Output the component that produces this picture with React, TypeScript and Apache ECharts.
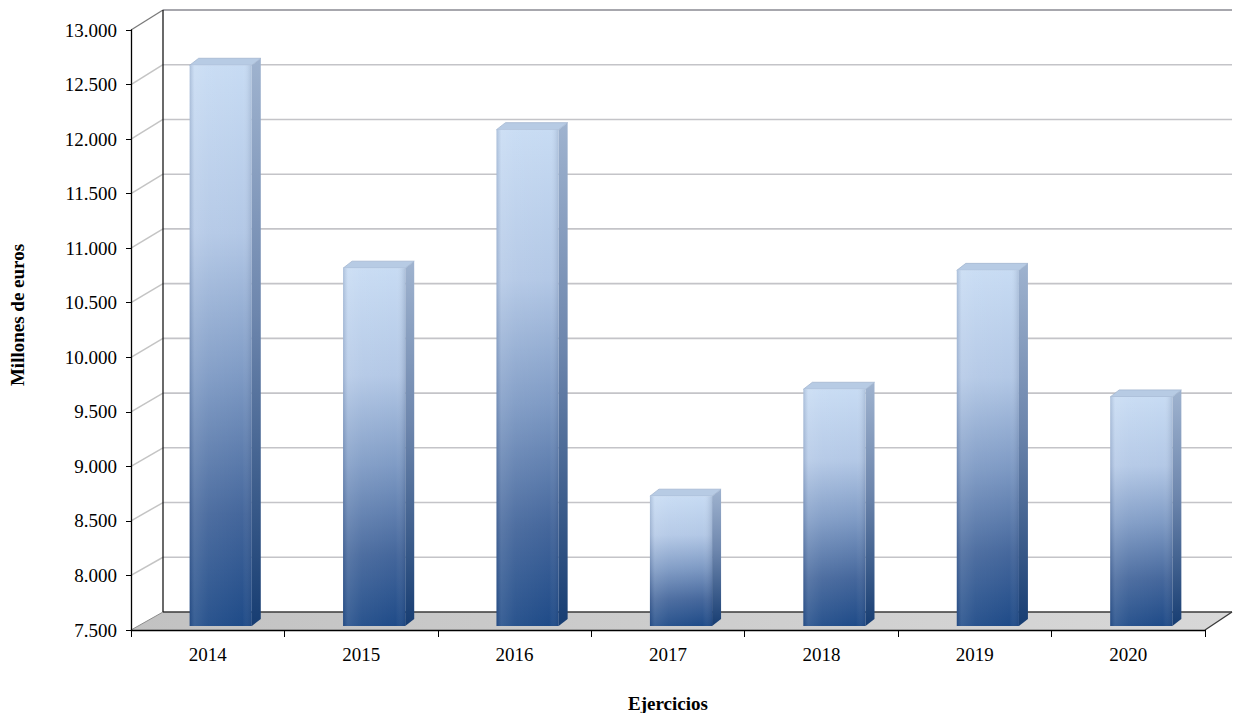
import React, { useEffect, useRef } from "react";
import * as echarts from "echarts";

const years = ["2014", "2015", "2016", "2017", "2018", "2019", "2020"];
const values = [12640, 10780, 12050, 8690, 9670, 10760, 9600];
const yTicks = [7500, 8000, 8500, 9000, 9500, 10000, 10500, 11000, 11500, 12000, 12500, 13000];
const yMin = 7500;
const yMax = 13000;
const yStep = 500;
const yTitle = "Millones de euros";
const xTitle = "Ejercicios";

const FONT = "'Liberation Serif', 'Times New Roman', serif";

function fmt(v: number): string {
  const s = String(Math.round(v));
  return s.replace(/\B(?=(\d{3})+(?!\d))/g, ".");
}

export default function App() {
  const ref = useRef<HTMLDivElement>(null);
  useEffect(() => {
    if (!ref.current) return;
    const chart = echarts.init(ref.current, undefined, { renderer: "svg" });

    const wallItem = (params: any, api: any) => {
      const cs = params.coordSys;
      const v = api.value(1);
      const fy = api.coord([0, v])[1];
      const x0 = cs.x;
      const x1 = cs.x + cs.width;
      const frontBottom = cs.y + cs.height;
      const by = frontBottom - 18 - (frontBottom - fy) * (602 / 600);
      const bxL = x0 + 32;
      const bxR = x1 + 27;
      const children: any[] = [];
      if (params.dataIndex === 0) {
        children.push({
          type: "polygon",
          shape: { points: [[x0, frontBottom], [x1, frontBottom], [bxR, by], [bxL, by]] },
          style: {
            fill: new echarts.graphic.LinearGradient(0, 0, 1, 0, [
              { offset: 0, color: "#c2c2c2" },
              { offset: 1, color: "#d8d8d8" },
            ]),
            stroke: null,
          },
        });
        children.push({ type: "line", shape: { x1: x0, y1: frontBottom, x2: bxL, y2: by }, style: { stroke: "#8c8c8c", lineWidth: 1 } });
        children.push({ type: "line", shape: { x1: bxL, y1: by, x2: bxR, y2: by }, style: { stroke: "#3a3a3a", lineWidth: 1.3 } });
        children.push({ type: "line", shape: { x1: x1, y1: frontBottom, x2: bxR, y2: by }, style: { stroke: "#3a3a3a", lineWidth: 1.3 } });
      } else {
        const top = v >= yMax;
        children.push({ type: "line", shape: { x1: x0, y1: fy, x2: bxL, y2: by }, style: { stroke: top ? "#7a7a7a" : "#c4c4c4", lineWidth: top ? 1.3 : 1.5 } });
        children.push({ type: "line", shape: { x1: bxL, y1: by, x2: bxR, y2: by }, style: { stroke: top ? "#8a8a92" : "#c4c4c8", lineWidth: top ? 1.5 : 1.6 } });
      }
      if (v >= yMax) {
        const byBottom = frontBottom - 18;
        children.push({ type: "line", shape: { x1: bxL, y1: by, x2: bxL, y2: byBottom }, style: { stroke: "#1a1a1a", lineWidth: 1.3 } });
      }
      return { type: "group", children };
    };

    const barItem = (params: any, api: any) => {
      const idx = api.value(0);
      const v = api.value(1);
      const pt = api.coord([idx, v]);
      const base = api.coord([idx, yMin]);
      const band = api.size([1, 0])[0];
      const bw = band * 0.405;
      const cx = pt[0] + 13;
      const yTop = pt[1] - 4;
      const yBase = base[1] - 4;
      const xl = cx - bw / 2;
      const xr = cx + bw / 2;
      const DX = 9;
      const DY = -7;
      const h = yBase - yTop;
      return {
        type: "group",
        children: [
          {
            type: "polygon",
            shape: { points: [[xr, yTop], [xr + DX, yTop + DY], [xr + DX, yBase + DY], [xr, yBase]] },
            style: {
              fill: new echarts.graphic.LinearGradient(0, 0, 0, 1, [
                { offset: 0, color: "#9fb3cf" },
                { offset: 0.45, color: "#6d86ad" },
                { offset: 1, color: "#173d72" },
              ]),
            },
          },
          {
            type: "polygon",
            shape: { points: [[xl, yTop], [xl + DX, yTop + DY], [xr + DX, yTop + DY], [xr, yTop]] },
            style: { fill: "#b7cbe4", stroke: "#a3b6d0", lineWidth: 0.8 },
          },
          {
            type: "rect",
            shape: { x: xl, y: yTop, width: bw, height: h },
            style: {
              fill: new echarts.graphic.LinearGradient(0, 0, 0, 1, [
                { offset: 0, color: "#c7dbf3" },
                { offset: 0.3, color: "#b3c8e6" },
                { offset: 0.55, color: "#7f9bc5" },
                { offset: 0.8, color: "#45679c" },
                { offset: 1, color: "#1f4b88" },
              ]),
            },
          },
          {
            type: "rect",
            shape: { x: xl, y: yTop, width: bw, height: h },
            style: {
              fill: new echarts.graphic.LinearGradient(0, 0, 1, 0, [
                { offset: 0, color: "rgba(40,60,100,0.18)" },
                { offset: 0.08, color: "rgba(255,255,255,0.12)" },
                { offset: 0.3, color: "rgba(255,255,255,0.05)" },
                { offset: 0.85, color: "rgba(255,255,255,0)" },
                { offset: 1, color: "rgba(20,40,80,0.15)" },
              ]),
            },
          },
        ],
      };
    };

    chart.setOption({
      animation: false,
      grid: { left: 131, right: 31, top: 30, bottom: 83, containLabel: false },
      xAxis: {
        type: "category",
        data: years,
        boundaryGap: true,
        z: 10,
        axisLine: { show: true, lineStyle: { color: "#000", width: 1.3 } },
        axisTick: { show: true, alignWithLabel: false, length: 7, lineStyle: { color: "#000" } },
        axisLabel: { color: "#000", fontFamily: FONT, fontSize: 19, margin: 15 },
        splitLine: { show: false },
      },
      yAxis: {
        type: "value",
        min: yMin,
        max: yMax,
        interval: yStep,
        z: 10,
        axisLine: { show: true, lineStyle: { color: "#000", width: 1.3 } },
        axisTick: { show: true, inside: false, length: 5, lineStyle: { color: "#000" } },
        axisLabel: { color: "#000", fontFamily: FONT, fontSize: 19, margin: 14, formatter: (v: number) => fmt(v) },
        splitLine: { show: false },
      },
      series: [
        {
          type: "custom",
          renderItem: wallItem,
          data: yTicks.map((t) => [0, t]),
          z: 1,
          silent: true,
          clip: false,
        },
        {
          type: "custom",
          renderItem: barItem,
          data: values.map((v, i) => [i, v]),
          z: 3,
          clip: false,
        },
      ],
      graphic: [
        {
          type: "text",
          x: 17,
          y: 315,
          rotation: Math.PI / 2,
          style: {
            text: yTitle,
            font: `bold 19px ${FONT}`,
            fill: "#000",
            textAlign: "center",
            textVerticalAlign: "middle",
          },
        },
        {
          type: "text",
          x: 668,
          y: 703,
          style: {
            text: xTitle,
            font: `bold 19px ${FONT}`,
            fill: "#000",
            textAlign: "center",
            textVerticalAlign: "middle",
          },
        },
      ],
    });
    return () => chart.dispose();
  }, []);
  return (
    <div
      ref={ref}
      style={{ position: "fixed", left: 0, top: 0, width: 1236, height: 713, background: "#fff" }}
    />
  );
}
